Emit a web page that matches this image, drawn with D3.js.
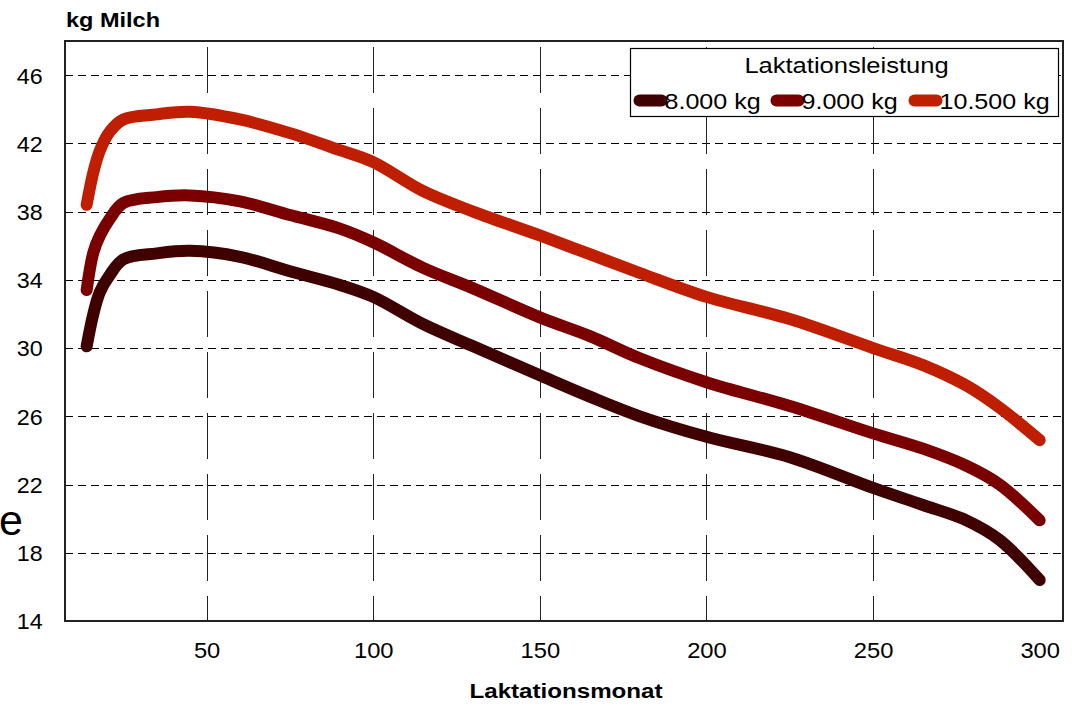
<!DOCTYPE html>
<html>
<head>
<meta charset="utf-8">
<script src="https://cdn.jsdelivr.net/npm/d3@7"></script>
<style>
  body { margin: 0; background: #fff; }
  text { font-family: "Liberation Sans", Arial, sans-serif; fill: #000; }
</style>
</head>
<body>
<div id="graph"></div>
<script>
// days of lactation (x)
const days = [14, 16, 18, 21, 25, 35, 45, 60, 75, 90, 100, 115, 130, 150, 165, 180, 200, 225, 250, 265, 278, 288, 300];
// kg milk per day
const kg8000  = [30.1, 32.0, 33.3, 34.3, 35.2, 35.55, 35.7, 35.35, 34.5, 33.7, 33.0, 31.4, 30.1, 28.4, 27.15, 26.0, 24.8, 23.6, 21.8, 20.8, 19.9, 18.75, 16.4];
const kg9000  = [33.4, 35.6, 36.6, 37.6, 38.5, 38.85, 38.95, 38.6, 37.8, 37.0, 36.2, 34.7, 33.5, 31.8, 30.7, 29.4, 28.0, 26.6, 25.0, 24.1, 23.1, 22.0, 19.9];
const kg10500 = [38.4, 40.3, 41.6, 42.7, 43.4, 43.7, 43.85, 43.4, 42.6, 41.6, 40.9, 39.2, 38.0, 36.6, 35.5, 34.4, 33.0, 31.7, 30.0, 29.0, 27.8, 26.5, 24.6];
const seriesNames = ["8.000 kg", "9.000 kg", "10.500 kg"];
const xTicks = [50, 100, 150, 200, 250, 300];
const xGrid = [50, 100, 150, 200, 250];
const yTicks = [14, 18, 22, 26, 30, 34, 38, 42, 46];

const colors = ["#3f0000", "#7a0000", "#c01e00"];
const W = 1073, H = 704;
const margin = {top: 41, right: 10, bottom: 83, left: 65};
const width = W - margin.left - margin.right,
      height = H - margin.top - margin.bottom;
const stretch = 1.14; // the original text is drawn a bit wider than Arial

const svg = d3.select("#graph").append("svg").attr("width", W).attr("height", H);

const x = d3.scaleLinear().domain([7.5, 307]).range([0, width]);
const y = d3.scaleLinear().domain([14, 48]).range([height, 0]);

const g = svg.append("g").attr("transform", "translate(" + margin.left + "," + margin.top + ")");

// horizontal grid
g.append("g").selectAll("line")
  .data(yTicks.filter(d => d > 14))
  .join("line")
    .attr("x1", 0).attr("x2", width)
    .attr("y1", d => Math.round(y(d)) + 0.5).attr("y2", d => Math.round(y(d)) + 0.5)
    .attr("stroke", "#000").attr("stroke-width", 1)
    .attr("stroke-dasharray", "8,5");

// vertical grid (long dashes)
g.append("g").selectAll("line")
  .data(xGrid)
  .join("line")
    .attr("x1", d => Math.round(x(d)) + 0.5).attr("x2", d => Math.round(x(d)) + 0.5)
    .attr("y1", 6).attr("y2", height)
    .attr("stroke", "#222").attr("stroke-width", 1)
    .attr("stroke-dasharray", "46,15");

// y axis labels
const yAxis = g.append("g")
  .call(d3.axisLeft(y).tickValues(yTicks).tickSize(0).tickPadding(21));
yAxis.select(".domain").remove();
yAxis.selectAll("text").style("font-size", "22px").attr("dy", "0.36em")
  .attr("transform", "scale(1.06,1)");

// x axis labels
const xAxis = g.append("g").attr("transform", "translate(0," + height + ")")
  .call(d3.axisBottom(x).tickValues(xTicks).tickSize(0).tickPadding(21));
xAxis.select(".domain").remove();
xAxis.selectAll("text").style("font-size", "22px")
  .attr("transform", "scale(1.08,1)");

// plot border
g.append("rect")
  .attr("x", 0).attr("y", 0).attr("width", width).attr("height", height)
  .attr("fill", "none").attr("stroke", "#222").attr("stroke-width", 2);

// lines
const line = d3.line()
  .x(d => x(d[0])).y(d => y(d[1]))
  .curve(d3.curveCatmullRom.alpha(0.5));

[kg8000, kg9000, kg10500].forEach((vals, i) => {
  g.append("path")
    .datum(days.map((d, j) => [d, vals[j]]))
    .attr("fill", "none")
    .attr("stroke", colors[i])
    .attr("stroke-width", 12)
    .attr("stroke-linecap", "round")
    .attr("stroke-linejoin", "round")
    .attr("d", line);
});

function label(parent, tx, ty, str, size, opts) {
  opts = opts || {};
  const t = parent.append("text")
    .attr("transform", "translate(" + tx + "," + ty + ") scale(" + (opts.sx || stretch) + ",1)")
    .attr("text-anchor", opts.anchor || "start")
    .style("font-size", size + "px")
    .text(str);
  if (opts.bold) t.style("font-weight", "bold");
  return t;
}

// titles
label(svg, 66, 27, "kg Milch", 21, {bold: true, sx: 1.12});
label(svg, 566, 698, "Laktationsmonat", 21, {bold: true, anchor: "middle", sx: 1.15});
label(svg, -1, 535, "e", 43, {sx: 1});

// legend
const lg = svg.append("g").attr("transform", "translate(630.5,48.5)");
lg.append("rect").attr("width", 428).attr("height", 68)
  .attr("fill", "#fff").attr("stroke", "#000").attr("stroke-width", 1.2);
label(lg, 216, 24, "Laktationsleistung", 22, {anchor: "middle", sx: 1.16});
const entryX = [3, 140, 278];
seriesNames.forEach((name, i) => {
  const e = lg.append("g").attr("transform", "translate(" + entryX[i] + ",52)");
  e.append("line").attr("x1", 6).attr("x2", 28).attr("y1", 0).attr("y2", 0)
    .attr("stroke", colors[i]).attr("stroke-width", 12).attr("stroke-linecap", "round");
  label(e, 31, 8, name, 22, {sx: 1.14});
});
</script>
</body>
</html>
